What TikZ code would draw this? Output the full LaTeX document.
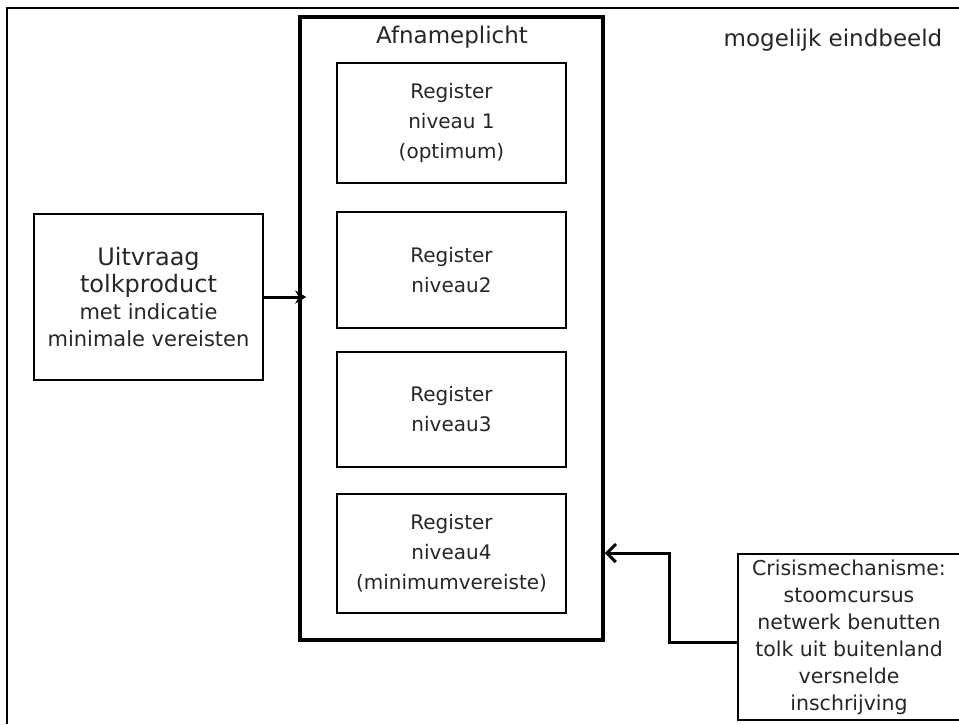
\documentclass[tikz,border=0pt]{standalone}
\usepackage{fontspec}
\setmainfont{DejaVu Sans}
\usetikzlibrary{positioning,arrows.meta}

\begin{document}
\begin{tikzpicture}[x=1pt,y=-1pt,
    every node/.style={text=black!85,align=center,inner sep=0pt},
    kader/.style={draw,line width=1.3pt,minimum width=229pt},
    register/.style={kader,font=\fontsize{20}{30}\selectfont},
    pijl/.style={line width=3pt}]
    \useasboundingbox (0,0) rectangle (959,724);
    \draw [line width=1.5pt](7,724)--(7,8)--(959,8);
    % het grote blok met de registers
    \node [draw,line width=3.5pt,minimum width=303pt,minimum height=623pt] (afname) at (451.5,328.5) {};
    \node [font=\fontsize{23}{28}\selectfont] (titel) at (452,37) {Afnameplicht};
    \node [register,minimum height=120pt] (reg1) at (451.5,123) {Register\\niveau 1\\(optimum)};
    \node [register,minimum height=116pt] (reg2) at (451.5,270) {Register\\niveau2};
    \node [register,minimum height=115pt] (reg3) at (451.5,409.5) {Register\\niveau3};
    \node [register,minimum height=119pt] (reg4) at (451.5,553.5) {Register\\niveau4\\(minimumvereiste)};
    \node [font=\fontsize{23}{28}\selectfont] (eindbeeld) at (833,40) {mogelijk eindbeeld};
    \node [kader,minimum height=166pt,font=\fontsize{24}{27}\selectfont] (uitvraag) at (148.5,297)
        {Uitvraag\\tolkproduct\\\fontsize{21}{27}\selectfont met indicatie\\\fontsize{21}{27}\selectfont minimale vereisten};
    \node [kader,minimum width=222pt,minimum height=166pt,font=\fontsize{20.5}{27}\selectfont] (crisis) at (849,637)
        {Crisismechanisme:\\stoomcursus\\netwerk benutten\\tolk uit buitenland\\versnelde\\inschrijving};
    \coordinate (knik) at (669,553);
    \draw [pijl,-{Stealth[length=11pt,width=13pt]},shorten >=-8pt](uitvraag.east)--(uitvraag.east -| afname.west);
    \draw [pijl,-{Straight Barb[length=9pt,width=18pt]}]([yshift=-5pt]crisis.west) -| (knik) -- (knik -| afname.east);
\end{tikzpicture}
\end{document}
